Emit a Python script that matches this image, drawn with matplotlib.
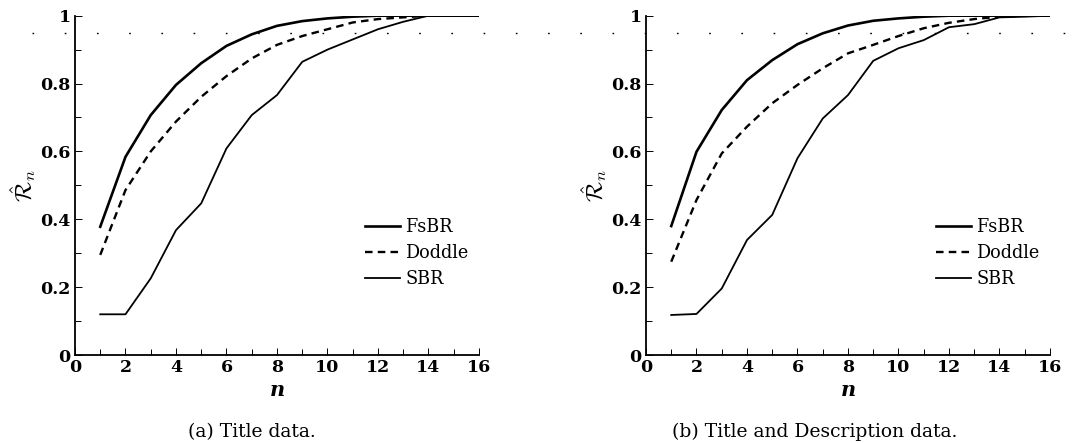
import matplotlib
matplotlib.use("Agg")
import matplotlib.pyplot as plt
from matplotlib.lines import Line2D
from matplotlib.ticker import MultipleLocator

plt.rcParams['font.family'] = ['DejaVu Serif']
plt.rcParams['mathtext.fontset'] = 'cm'

n = list(range(1, 17))

# (a) Title data
fsbr_a = [0.378, 0.584, 0.707, 0.796, 0.860, 0.911, 0.945, 0.970, 0.984, 0.992, 0.997, 1.0, 1.0, 1.0, 1.0, 1.0]
doddle_a = [0.295, 0.486, 0.600, 0.688, 0.761, 0.822, 0.874, 0.914, 0.940, 0.960, 0.980, 0.990, 0.995, 1.0, 1.0, 1.0]
sbr_a = [0.120, 0.120, 0.226, 0.368, 0.447, 0.609, 0.707, 0.766, 0.864, 0.900, 0.930, 0.960, 0.982, 1.0, 1.0, 1.0]

# (b) Title and Description data
fsbr_b = [0.380, 0.599, 0.722, 0.810, 0.869, 0.916, 0.948, 0.971, 0.985, 0.992, 0.997, 1.0, 1.0, 1.0, 1.0, 1.0]
doddle_b = [0.275, 0.457, 0.594, 0.673, 0.742, 0.796, 0.845, 0.889, 0.914, 0.940, 0.963, 0.979, 0.990, 0.997, 1.0, 1.0]
sbr_b = [0.118, 0.121, 0.196, 0.339, 0.413, 0.580, 0.697, 0.766, 0.867, 0.904, 0.928, 0.966, 0.975, 0.995, 0.997, 1.0]

series_names = ["FsBR", "Doddle", "SBR"]
xticks = [0, 2, 4, 6, 8, 10, 12, 14, 16]
yticks = [0, 0.2, 0.4, 0.6, 0.8, 1]
ytick_labels = ["0", "0.2", "0.4", "0.6", "0.8", "1"]
captions = ["(a) Title data.", "(b) Title and Description data."]

fig = plt.figure(figsize=(10.79, 4.43), dpi=100)
ax_a = fig.add_axes([0.0695, 0.1986, 0.3744, 0.766])
ax_b = fig.add_axes([0.5987, 0.1986, 0.3744, 0.766])

styles = [dict(color='black', lw=1.9, ls='-'),
          dict(color='black', lw=1.7, ls=(0, (3.2, 2.2))),
          dict(color='black', lw=1.3, ls='-')]

for ax, data, cap, capx in [(ax_a, (fsbr_a, doddle_a, sbr_a), captions[0], 0.233),
                            (ax_b, (fsbr_b, doddle_b, sbr_b), captions[1], 0.755)]:
    for ys, name, st in zip(data, series_names, styles):
        ax.plot(n, ys, label=name, **st)
    ax.set_xlim(0, 16)
    ax.set_ylim(0, 1)
    ax.spines['top'].set_visible(False)
    ax.spines['right'].set_visible(False)
    ax.spines['left'].set_linewidth(1.3)
    ax.spines['bottom'].set_linewidth(1.3)
    ax.set_xticks(xticks)
    ax.set_xticklabels([str(t) for t in xticks], fontsize=12.5, fontweight='bold')
    ax.xaxis.set_minor_locator(MultipleLocator(1))
    ax.set_yticks(yticks)
    ax.set_yticklabels(ytick_labels, fontsize=12.5, fontweight='bold')
    ax.yaxis.set_minor_locator(MultipleLocator(0.1))
    ax.tick_params(which='both', direction='in', width=0.7, colors='black', pad=3)
    ax.tick_params(which='major', length=5)
    ax.tick_params(which='minor', length=4)
    ax.set_xlabel('n', fontsize=15, fontstyle='italic', fontweight='bold', labelpad=3)
    ax.set_ylabel(r'$\hat{\mathcal{R}}_n$', fontsize=17, labelpad=2)
    ax.legend(loc='center left', bbox_to_anchor=(0.678, 0.30), frameon=False,
              handlelength=2.0, handletextpad=0.3, labelspacing=0.44,
              prop={'family': 'DejaVu Serif', 'size': 12.7})
    fig.text(capx, 0.025, cap, ha='center', va='center', fontsize=13.5)

# scanning artefact: faint dotted row across the top
fig.add_artist(Line2D([0.03, 0.998], [0.925, 0.925], transform=fig.transFigure,
                      color='black', lw=1.0, ls=(0, (1.2, 22)))) 

fig.savefig("out.png", dpi=100)
